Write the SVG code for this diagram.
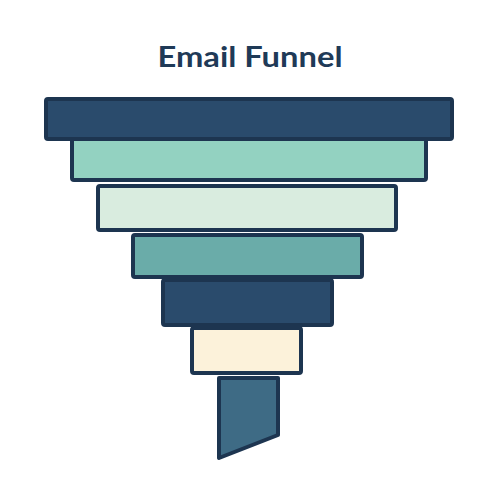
<svg xmlns="http://www.w3.org/2000/svg" width="500" height="500" viewBox="0 0 500 500">
<style>
.s{stroke:#1d3550;stroke-width:4;stroke-linejoin:round}
.t{font-family:Lato,"Open Sans","Liberation Sans",sans-serif;font-weight:bold;font-size:29px;fill:#1f3a57}
</style>
<rect width="500" height="500" fill="#ffffff"/>
<text class="t" x="250" y="67" text-anchor="middle" textLength="185" lengthAdjust="spacingAndGlyphs">Email Funnel</text>
<g id="level7"><polygon class="s" fill="#3e6b85" points="219,378 278,378 278,435 219,458"/></g>
<g id="level6"><rect class="s" fill="#fcf2da" x="192" y="328" width="109" height="45" rx="2"/></g>
<g id="level5"><rect class="s" fill="#2a4b6c" x="163" y="280" width="169" height="45" rx="2"/></g>
<g id="level4"><rect class="s" fill="#6aaca9" x="133" y="235" width="229" height="42" rx="2"/></g>
<g id="level3"><rect class="s" fill="#d9ecdf" x="98" y="186" width="298" height="44" rx="2"/></g>
<g id="level2"><rect class="s" fill="#93d2c1" x="72" y="138" width="354" height="42" rx="2"/></g>
<g id="level1"><rect class="s" fill="#2a4b6c" x="46" y="99" width="406" height="40" rx="2"/></g>
</svg>
